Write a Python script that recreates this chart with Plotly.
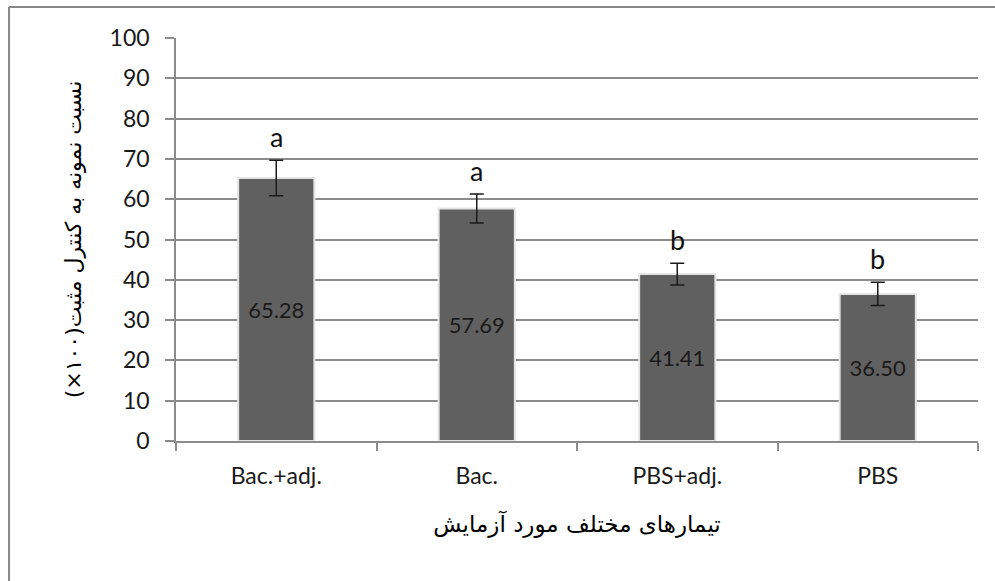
import plotly.graph_objects as go

# Treatments and their measured responses
treatments = ["Bac.+adj.", "Bac.", "PBS+adj.", "PBS"]
means = [65.28, 57.69, 41.41, 36.50]
errors = [4.4, 3.6, 2.7, 2.9]
groups = ["a", "a", "b", "b"]
y_ticks = list(range(0, 101, 10))

x_title = "تیمارهای مختلف مورد آزمایش"
y_title = "نسبت نمونه به کنترل مثبت(۱۰۰×)"

latin_font = "Lato, Carlito, 'Open Sans', sans-serif"
persian_font = "'DejaVu Sans', sans-serif"
grid_gray = "#8c8c8c"

fig = go.Figure()
fig.add_trace(go.Bar(
    x=treatments,
    y=means,
    width=0.38,
    marker=dict(color="#606060", line=dict(color="#e4e4e4", width=2)),
    error_y=dict(type="data", array=errors, visible=True,
                 color="#1a1a1a", thickness=1.5, width=7),
    text=[f"{v:.2f}" for v in means],
    textposition="inside",
    insidetextanchor="middle",
    textangle=0,
    constraintext="none",
    textfont=dict(family=latin_font, size=22, color="#1a1a1a"),
    hoverinfo="skip",
))

# significance letters above each error bar
for t, m, e, g in zip(treatments, means, errors, groups):
    fig.add_annotation(x=t, y=m + e, text=g, showarrow=False,
                       yanchor="bottom", yshift=5,
                       font=dict(family=latin_font, size=27, color="#111111"))

# chart-area frame (top and left edges)
fig.add_shape(type="line", xref="paper", yref="paper",
              x0=-0.2082, x1=1.03, y0=1.0768, y1=1.0768,
              line=dict(color="#888888", width=2))
fig.add_shape(type="line", xref="paper", yref="paper",
              x0=-0.2082, x1=-0.2082, y0=1.0768, y1=-0.36,
              line=dict(color="#888888", width=2))

fig.update_layout(
    width=995, height=581,
    margin=dict(l=176, r=17, t=38, b=140),
    paper_bgcolor="white", plot_bgcolor="white",
    showlegend=False,
    bargap=0.6,
)
fig.update_xaxes(
    type="category",
    tickson="boundaries",
    ticks="outside", ticklen=8, tickcolor=grid_gray, tickwidth=1.5,
    ticklabelstandoff=14,
    showline=True, linecolor=grid_gray, linewidth=1.5,
    showgrid=False,
    tickfont=dict(family=latin_font, size=23, color="#1a1a1a"),
    title=dict(text=x_title, standoff=28,
               font=dict(family=persian_font, size=23, color="#000000")),
)
fig.update_yaxes(
    range=[0, 100], tickvals=y_ticks,
    ticks="outside", ticklen=9, tickcolor=grid_gray, tickwidth=1.5,
    ticklabelstandoff=11,
    showline=True, linecolor=grid_gray, linewidth=1.5,
    showgrid=True, gridcolor=grid_gray, gridwidth=1.5,
    zeroline=False,
    tickfont=dict(family=latin_font, size=23, color="#1a1a1a"),
    title=dict(text=y_title, standoff=22,
               font=dict(family=persian_font, size=22, color="#000000")),
)

fig.write_html("out.html")
